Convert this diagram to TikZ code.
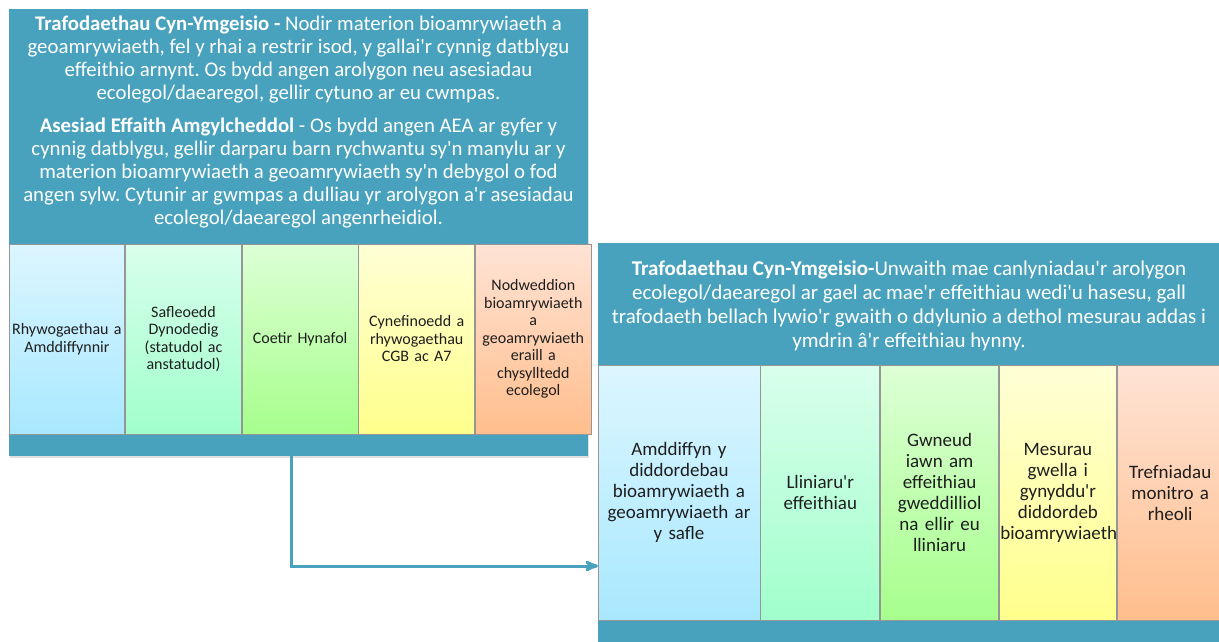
\documentclass[tikz,border=0pt]{standalone}
\usepackage{fontspec}
\setmainfont{Carlito}
\usepackage{tikz}
\usetikzlibrary{arrows,positioning,shadows}
\definecolor{aqua}{RGB}{72,162,189}
\definecolor{trenner}{RGB}{150,150,150}
\definecolor{tinte}{RGB}{30,30,30}
\newcommand{\ap}{\textquotesingle}
\frenchspacing
\tikzset{
	%Define standard arrow tip
	>=stealth',
	%Define style for the teal frames
	rahmen/.style={
		rectangle,
		fill=aqua,
		draw=none,
		inner sep=0pt,
		anchor=north west,
		drop shadow={opacity=0.25,shadow xshift=1pt,shadow yshift=-2pt}},
	%Define style for the frame headings
	kopf/.style={
		text=white,
		align=center,
		inner sep=0pt},
	%Define style for the coloured columns
	spalte/.style={
		rectangle,
		draw=trenner, line width=0.8pt,
		inner sep=0pt,
		align=center,
		text=tinte},
	spalteA/.style={spalte,
		minimum width=115.8pt,
		minimum height=190pt,
		text width=115pt,
		font=\fontsize{16}{17.5}\selectfont},
	spalteB/.style={spalte,
		minimum height=255pt,
		font=\fontsize{19}{21}\selectfont},
	% Define arrow style
	pfeil/.style={
		->,
		draw=aqua,
		line width=3pt},
	blau/.style={top color={rgb,255:red,220;green,246;blue,255},bottom color={rgb,255:red,168;green,232;blue,255}},
	mint/.style={top color={rgb,255:red,217;green,255;blue,235},bottom color={rgb,255:red,160;green,255;blue,204}},
	gruen/.style={top color={rgb,255:red,221;green,255;blue,214},bottom color={rgb,255:red,166;green,255;blue,140}},
	gelb/.style={top color={rgb,255:red,255;green,255;blue,214},bottom color={rgb,255:red,255;green,255;blue,140}},
	orange/.style={top color={rgb,255:red,255;green,227;blue,213},bottom color={rgb,255:red,255;green,190;blue,140}}
}
\begin{document}
\begin{tikzpicture}[x=1pt,y=-1pt]
		\useasboundingbox[fill=white] (0,0) rectangle (1219,642);
		%frames
		\node[rahmen, minimum width=579pt, minimum height=447pt] (boxA) at (9,9) {};
		\node[rahmen, minimum width=621pt, minimum height=399pt] (boxB) at (598,243) {};
		%headings
		\node[kopf, font=\fontsize{20.8}{23}\selectfont] (kopfA) at (298.5,122)
		{\textbf{Trafodaethau Cyn-Ymgeisio -} Nodir materion bioamrywiaeth a\\
		geoamrywiaeth, fel y rhai a restrir isod, y gallai\ap r cynnig datblygu\\
		effeithio arnynt. Os bydd angen arolygon neu asesiadau\\
		ecolegol/daearegol, gellir cytuno ar eu cwmpas.\\[10pt]
		\textbf{Asesiad Effaith Amgylcheddol} - Os bydd angen AEA ar gyfer y\\
		cynnig datblygu, gellir darparu barn rychwantu sy\ap n manylu ar y\\
		materion bioamrywiaeth a geoamrywiaeth sy\ap n debygol o fod\\
		angen sylw. Cytunir ar gwmpas a dulliau yr arolygon a\ap r asesiadau\\
		ecolegol/daearegol angenrheidiol.};
		\node[kopf, font=\fontsize{21}{24}\selectfont] (kopfB) at (909,306)
		{\textbf{Trafodaethau Cyn-Ymgeisio-}Unwaith mae canlyniadau\ap r arolygon\\
		ecolegol/daearegol ar gael ac mae\ap r effeithiau wedi\ap u hasesu, gall\\
		trafodaeth bellach lywio\ap r gwaith o ddylunio a dethol mesurau addas i\\
		ymdrin â\ap r effeithiau hynny.};
		%columns of the first frame
		\node[spalteA, blau] (rhyw) at (66.9,339) {Rhywogaethau a\\Amddiffynnir};
		\node[spalteA, mint, right=0pt of rhyw] (safle) {Safleoedd\\Dynodedig\\(statudol ac\\anstatudol)};
		\node[spalteA, gruen, right=0pt of safle] (coetir) {Coetir Hynafol};
		\node[spalteA, gelb, right=0pt of coetir] (cynef) {Cynefinoedd a\\rhywogaethau\\CGB ac A7};
		\node[spalteA, orange, right=0pt of cynef] (nodw) {Nodweddion\\bioamrywiaeth\\a\\geoamrywiaeth\\eraill a\\chysylltedd\\ecolegol};
		%columns of the second frame
		\node[spalteB, blau, minimum width=162pt, text width=156pt] (amdd) at (679,492.5) {Amddiffyn y\\diddordebau\\bioamrywiaeth a\\geoamrywiaeth ar\\y safle};
		\node[spalteB, mint, minimum width=119pt, text width=114pt, right=0pt of amdd] (llin) {Lliniaru\ap r\\effeithiau};
		\node[spalteB, gruen, minimum width=118pt, text width=113pt, right=0pt of llin] (gwne) {Gwneud\\iawn am\\effeithiau\\gweddilliol\\na ellir eu\\lliniaru};
		\node[spalteB, gelb, minimum width=117pt, text width=115pt, right=0pt of gwne] (mesu) {Mesurau\\gwella i\\gynyddu\ap r\\diddordeb\\bioamrywiaeth};
		\node[spalteB, orange, minimum width=116pt, text width=104pt, right=0pt of mesu] (tref) {\hspace*{-10pt}Trefniadau\\\hspace*{-10pt}monitro a\\\hspace*{-10pt}rheoli};
		% the connector bends once below the first frame
		\coordinate (knick) at (291,566);
		\draw[pfeil] (boxA.south -| knick) -- (knick) -- (knick -| boxB.west);
		\end{tikzpicture}
\end{document}
